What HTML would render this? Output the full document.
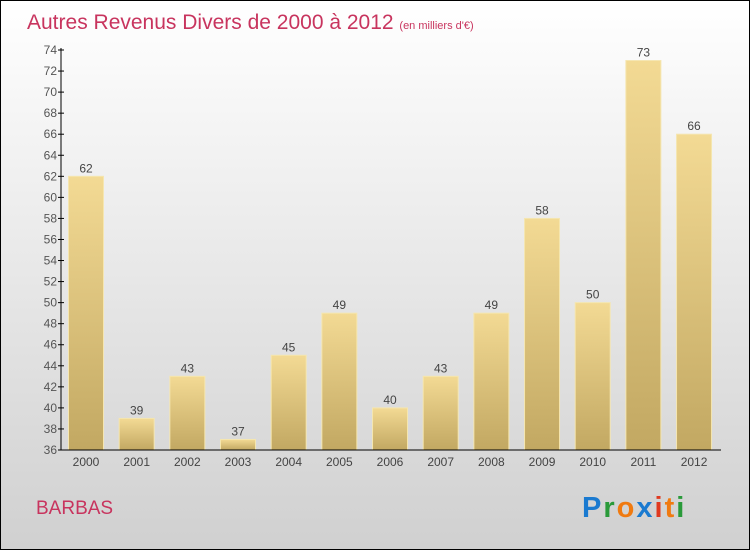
<!DOCTYPE html>
<html><head><meta charset="utf-8"><style>
body{margin:0;width:750px;height:550px;overflow:hidden}
svg{display:block;font-family:"Liberation Sans",sans-serif}
</style></head><body>
<svg id="c" width="750" height="550">
<defs>
<linearGradient id="bg" x1="0" y1="0" x2="0" y2="1"><stop offset="0" stop-color="#ffffff"/><stop offset="1" stop-color="#d0d0d0"/></linearGradient>
<linearGradient id="bar" x1="0" y1="0" x2="0" y2="1"><stop offset="0" stop-color="#f3da94"/><stop offset="1" stop-color="#c2a862"/></linearGradient>
</defs>
<rect x="0.5" y="0.5" width="749" height="549" fill="url(#bg)" stroke="#000"/>
<text x="27" y="29" font-size="21" fill="#c8345e">Autres Revenus Divers de 2000 à 2012 <tspan font-size="11">(en milliers d'€)</tspan></text>
<text x="36" y="514" font-size="19" fill="#c8345e">BARBAS</text>
<g font-size="29" font-weight="bold">
<text x="582" y="517" letter-spacing="2"><tspan fill="#1a7ad0">P</tspan><tspan fill="#2a9a3a">r</tspan><tspan fill="#f07a10">o</tspan><tspan fill="#1a7ad0">x</tspan><tspan fill="#e03a20">i</tspan><tspan fill="#f07a10">t</tspan><tspan fill="#2a9a3a">i</tspan></text>
</g>
<g id="plot"></g>
</svg>
<script>
const years=["2000","2001","2002","2003","2004","2005","2006","2007","2008","2009","2010","2011","2012"];
const values=[62,39,43,37,45,49,40,43,49,58,50,73,66];
const ticks=[36,38,40,42,44,46,48,50,52,54,56,58,60,62,64,66,68,70,72,74];
const ns="http://www.w3.org/2000/svg";
const g=document.getElementById('plot');
const y0=450,y1=50,vmin=36,vmax=74;
const y=v=>y0-(v-vmin)*(y0-y1)/(vmax-vmin);
const x=i=>86+i*50.67;
function el(t,a){const e=document.createElementNS(ns,t);for(const k in a)e.setAttribute(k,a[k]);g.appendChild(e);return e;}
values.forEach((v,i)=>{
 const r=el('rect',{x:x(i)-17.5,y:y(v),width:35,height:y0-y(v),fill:'url(#bar)',stroke:'#f5e6b0','stroke-width':1});
 
 
 const t=el('text',{x:x(i),y:y(v)-4,'font-size':12,fill:'#444','text-anchor':'middle'});t.textContent=v;
 
 
 const l=el('text',{x:x(i),y:466,'font-size':12,fill:'#444','text-anchor':'middle'});l.textContent=years[i];
 
 
});
ticks.forEach(tv=>{
 el('line',{x1:58,x2:64,y1:y(tv),y2:y(tv),stroke:'#000'});
 const t=el('text',{x:57,y:y(tv)+4,'font-size':12,fill:'#555','text-anchor':'end'});t.textContent=tv;
 
 
});
const ya=el('line',{x1:61,x2:61,y1:48,y2:450,stroke:'#000'});


const xa=el('line',{x1:61,x2:721,y1:450,y2:450,stroke:'#000'});


</script>
</body></html>
